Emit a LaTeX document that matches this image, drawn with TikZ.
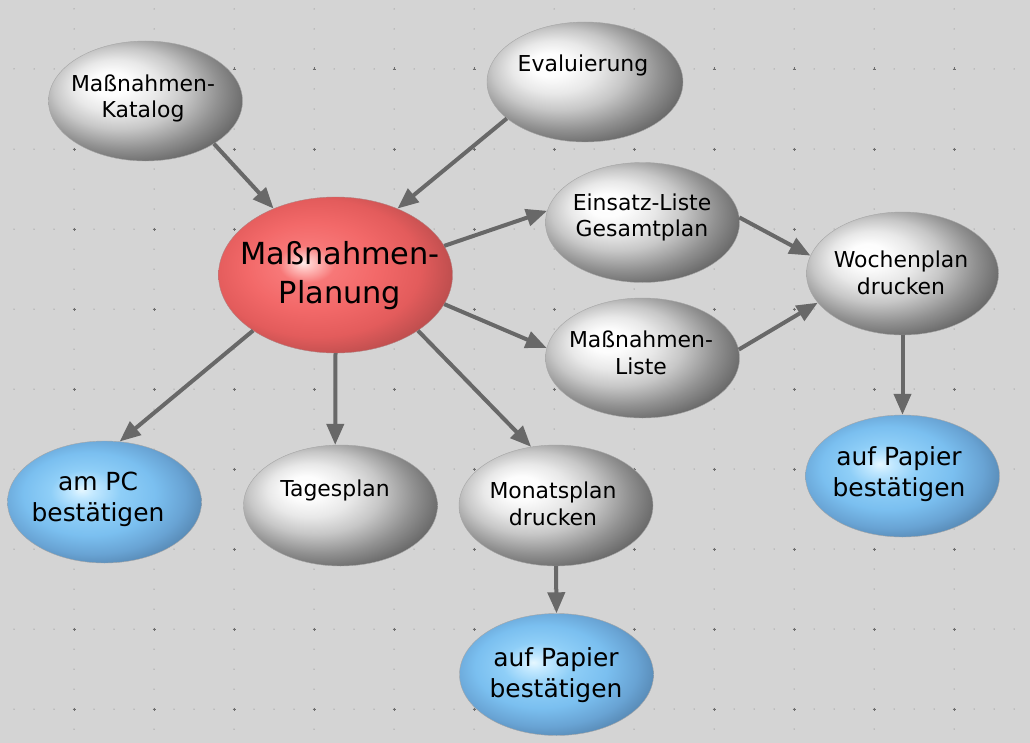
\documentclass[tikz,border=0pt]{standalone}
\usepackage{fontspec}
\setmainfont{DejaVu Sans}
\usetikzlibrary{shapes.geometric,arrows.meta}
\definecolor{bgc}{RGB}{212,212,212}
\definecolor{dotc}{RGB}{110,110,110}
\definecolor{arrc}{RGB}{104,104,104}
\pgfdeclareradialshading{grayball}{\pgfpoint{-10bp}{8bp}}{%
 rgb(0bp)=(1,1,1); rgb(5bp)=(.99,.99,.99); rgb(11bp)=(.91,.91,.91);
 rgb(17bp)=(.78,.78,.78); rgb(24bp)=(.57,.57,.57); rgb(30bp)=(.41,.41,.41);
 rgb(36bp)=(.32,.32,.32); rgb(50bp)=(.3,.3,.3)}
\pgfdeclareradialshading{redball}{\pgfpoint{-7bp}{4bp}}{%
 rgb(0bp)=(1,.93,.92); rgb(2bp)=(1,.76,.75); rgb(6bp)=(.97,.47,.47);
 rgb(14bp)=(.95,.41,.41); rgb(22bp)=(.89,.36,.36); rgb(29bp)=(.73,.3,.3);
 rgb(36bp)=(.58,.24,.24); rgb(50bp)=(.52,.22,.22)}
\pgfdeclareradialshading{blueball}{\pgfpoint{-6bp}{5bp}}{%
 rgb(0bp)=(.9,.97,1); rgb(3bp)=(.76,.91,1); rgb(9bp)=(.56,.81,.97);
 rgb(17bp)=(.48,.75,.94); rgb(24bp)=(.41,.64,.83); rgb(31bp)=(.31,.49,.65);
 rgb(38bp)=(.27,.41,.55); rgb(50bp)=(.25,.37,.5)}
\tikzset{
  bubble/.style={ellipse, inner sep=0pt, minimum width=194bp, minimum height=120bp, draw=black!35, line width=0.4bp},
  gbub/.style={bubble, shading=grayball},
  rbub/.style={bubble, shading=redball, minimum width=234bp, minimum height=156bp, draw=red!40!black!50},
  bbub/.style={bubble, shading=blueball, minimum height=122bp},
  gtxt/.style={align=center, inner sep=0pt, font=\fontsize{22}{27}\selectfont},
  rtxt/.style={align=center, inner sep=0pt, font=\fontsize{30.5}{39}\selectfont},
  btxt/.style={align=center, inner sep=0pt, font=\fontsize{25}{31}\selectfont},
  conn/.style={draw=arrc, line width=4bp, -{Triangle[length=21bp,width=17bp]}},
}
\begin{document}
\begin{tikzpicture}[x=1bp,y=-1bp]
\fill[bgc] (0,0) rectangle (1030,743);
\useasboundingbox (0,0) rectangle (1030,743);
% dotted grid
\foreach \r in {0,...,8}{\foreach \i in {0,...,51}{\fill[dotc] (14+20*\i,69+80*\r) circle (0.5);}}
\foreach \c in {0,...,12}{\foreach \j in {0,...,36}{\fill[dotc] (74+80*\c,9+20*\j) circle (0.5);}}
\foreach \r in {0,...,8}{\foreach \c in {0,...,12}{\draw[dotc,line width=0.6bp] (72.5+80*\c,69+80*\r) -- (75.5+80*\c,69+80*\r) (74+80*\c,67.5+80*\r) -- (74+80*\c,70.5+80*\r);}}
% bubbles
\node[gbub] (kat) at (145.5,101) {};
\node[gbub, minimum width=196bp] (eva) at (585,82) {};
\node[rbub] (plan) at (335.5,275) {};
\node[gbub] (ein) at (642.5,222.5) {};
\node[gbub] (mli) at (642.5,358) {};
\node[gbub, minimum width=192bp, minimum height=123bp] (woc) at (902.5,273.5) {};
\node[bbub] (pr) at (902.5,476) {};
\node[bbub] (pc) at (104.5,502) {};
\node[gbub, minimum height=121bp] (tag) at (340.5,505.5) {};
\node[gbub, minimum height=121bp] (mon) at (556,505.5) {};
\node[bbub] (pb) at (556.5,674.5) {};
% texts
\node[gtxt] (katT) at (143,98.5) {Maßnahmen-\\Katalog};
\node[gtxt] (evaT) at (583,65) {Evaluierung};
\node[rtxt] (planT) at (340,276) {Maßnahmen-\\Planung};
\node[gtxt] (einT) at (642,217.5) {Einsatz-Liste\\Gesamtplan};
\node[gtxt] (mliT) at (641,352.5) {Maßnahmen-\\Liste};
\node[gtxt] (wocT) at (901,272.5) {Wochenplan\\drucken};
\node[btxt] (prT) at (899,474) {auf Papier\\bestätigen};
\node[btxt] (pcT) at (98,499) {am PC\\bestätigen};
\node[gtxt] (tagT) at (335,490) {Tagesplan};
\node[gtxt] (monT) at (553,503.5) {Monatsplan\\drucken};
\node[btxt] (pbT) at (556,675) {auf Papier\\bestätigen};
% connectors
\draw[conn] (kat.-32) -- (plan.133);
\draw[conn] (eva.205) -- (plan.47);
\draw[conn] (plan.15) -- (ein.173);
\draw[conn] (plan.-15) -- (mli.174);
\draw[conn] (ein.3) -- (woc.169);
\draw[conn] (mli.5) -- (woc.199);
\draw[conn] (woc.-90) -- (pr.90);
\draw[conn] (plan.214) -- (pc.76);
\draw[conn] (plan.-90) -- (tag.95);
\draw[conn] (plan.-34) -- (mon.113);
\draw[conn] (mon.-90) -- (pb.90);
\end{tikzpicture}
\end{document}
